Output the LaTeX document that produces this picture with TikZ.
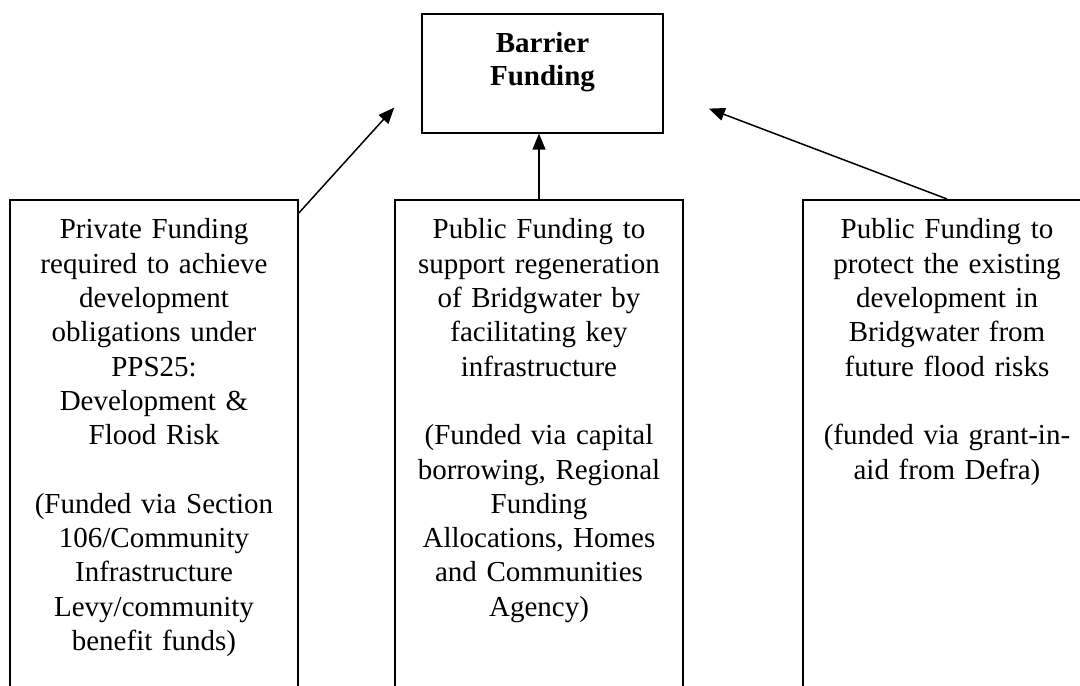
\documentclass[tikz,border=0pt]{standalone}
\usepackage{fontspec}
\setmainfont{Liberation Serif}
\usetikzlibrary{arrows.meta}

\tikzset{
  fundbox/.style={draw,line width=1.6pt,anchor=north,text width=288pt,inner xsep=0pt,
    inner ysep=19pt,align=center,text depth=560pt,font=\fontsize{29pt}{34.3pt}\selectfont},
  topbox/.style={draw,line width=1.6pt,anchor=north,text width=241pt,inner xsep=0pt,
    inner ysep=19pt,align=center,text height=20pt,text depth=61pt,
    font=\fontsize{29pt}{33pt}\selectfont\bfseries},
  feed/.style={line width=1.5pt,-{Triangle[length=16pt,width=13pt]}}
}

\begin{document}
\begin{tikzpicture}[x=1pt,y=-1pt]
        \useasboundingbox (0,0) rectangle (1080,686); % page size
        \node[topbox] (barrier) at (542.5,13) {Barrier\\Funding}; % box at the top
        \node[fundbox] (private) at (154,199) {Private Funding\\required to achieve\\development\\obligations under\\PPS25:\\Development \&\\Flood Risk\\[34.3pt](Funded via Section\\106/Community\\Infrastructure\\Levy/community\\benefit funds)}; % left box
        \node[fundbox] (regen) at (539,199) {Public Funding to\\support regeneration\\of Bridgwater by\\facilitating key\\infrastructure\\[34.3pt](Funded via capital\\borrowing, Regional\\Funding\\Allocations, Homes\\and Communities\\Agency)}; % middle box
        \node[fundbox] (protect) at (947,199) {Public Funding to\\protect the existing\\development in\\Bridgwater from\\future flood risks\\[34.3pt](funded via grant-in-\\aid from Defra)}; % right box
        \draw[feed] ([yshift=-14pt]private.north east) -- ([xshift=-27pt,yshift=26pt]barrier.south west); % left arrow
        \draw[feed] (regen.north) -- (regen.north |- barrier.south); % middle arrow
        \draw[feed] (protect.north) -- ([xshift=45pt,yshift=25pt]barrier.south east); % right arrow
    \end{tikzpicture}
\end{document}
